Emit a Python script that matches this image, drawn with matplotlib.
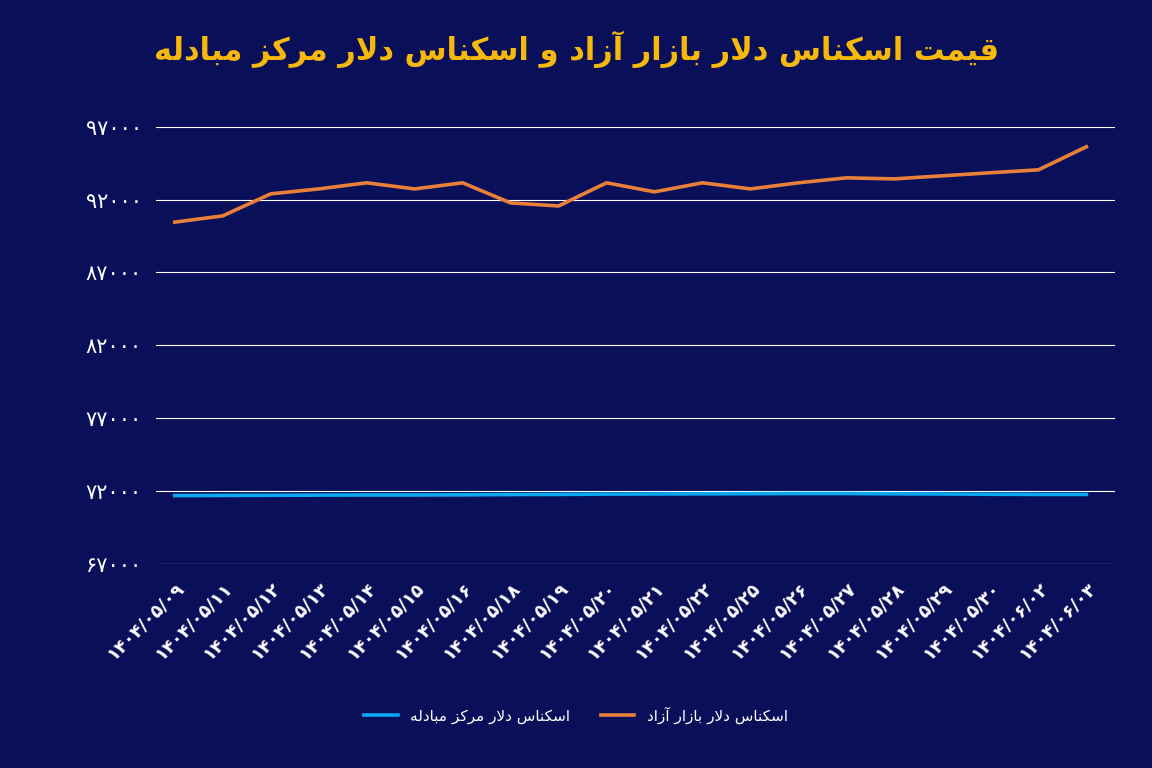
import matplotlib
matplotlib.use("Agg")
import matplotlib.pyplot as plt

# Persian letters -> (isolated, final, initial, medial); right-joining letters have only 2 forms
FORMS = {
    "ا": ("\uFE8D", "\uFE8E"), "آ": ("\uFE81", "\uFE82"),
    "د": ("\uFEA9", "\uFEAA"), "ر": ("\uFEAD", "\uFEAE"),
    "ز": ("\uFEAF", "\uFEB0"), "و": ("\uFEED", "\uFEEE"),
    "ب": ("\uFE8F", "\uFE90", "\uFE91", "\uFE92"),
    "ت": ("\uFE95", "\uFE96", "\uFE97", "\uFE98"),
    "س": ("\uFEB1", "\uFEB2", "\uFEB3", "\uFEB4"),
    "ص": ("\uFEB9", "\uFEBA", "\uFEBB", "\uFEBC"),
    "ق": ("\uFED5", "\uFED6", "\uFED7", "\uFED8"),
    "ک": ("\uFB8E", "\uFB8F", "\uFB90", "\uFB91"),
    "ل": ("\uFEDD", "\uFEDE", "\uFEDF", "\uFEE0"),
    "م": ("\uFEE1", "\uFEE2", "\uFEE3", "\uFEE4"),
    "ن": ("\uFEE5", "\uFEE6", "\uFEE7", "\uFEE8"),
    "ه": ("\uFEE9", "\uFEEA", "\uFEEB", "\uFEEC"),
    "ی": ("\uFBFC", "\uFBFD", "\uFBFE", "\uFBFF"),
}


def fa(text):
    """Very small reshaper: contextual forms + lam-alef, then reverse for LTR drawing."""
    out = []
    chars = list(text)
    i = 0
    while i < len(chars):
        c = chars[i]
        if c not in FORMS:
            out.append(c)
            i += 1
            continue
        prev = chars[i - 1] if i > 0 else ""
        joins_prev = prev in FORMS and len(FORMS[prev]) == 4
        if c == "ل" and i + 1 < len(chars) and chars[i + 1] == "ا":
            out.append("\uFEFC" if joins_prev else "\uFEFB")
            i += 2
            continue
        nxt = chars[i + 1] if i + 1 < len(chars) else ""
        f = FORMS[c]
        joins_next = len(f) == 4 and nxt in FORMS
        if joins_prev and joins_next:
            out.append(f[3])
        elif joins_prev:
            out.append(f[1])
        elif joins_next:
            out.append(f[2])
        else:
            out.append(f[0])
        i += 1
    return "".join(reversed(out))


def fa_digits(s):
    return s.translate(str.maketrans("0123456789", "۰۱۲۳۴۵۶۷۸۹"))


dates = ["1404/05/09", "1404/05/11", "1404/05/12", "1404/05/13", "1404/05/14",
         "1404/05/15", "1404/05/16", "1404/05/18", "1404/05/19", "1404/05/20",
         "1404/05/21", "1404/05/22", "1404/05/25", "1404/05/26", "1404/05/27",
         "1404/05/28", "1404/05/29", "1404/05/30", "1404/06/02", "1404/06/03"]
free_market = [90450, 90880, 92390, 92730, 93150, 92730, 93150, 91770, 91560, 93150,
               92530, 93150, 92730, 93150, 93490, 93420, 93630, 93840, 94040, 95620]
exchange_center = [71680, 71690, 71700, 71710, 71720, 71720, 71730, 71750, 71760, 71780,
                   71790, 71800, 71810, 71820, 71820, 71800, 71790, 71770, 71760, 71760]
yticks = [67000, 72000, 77000, 82000, 87000, 92000, 97000]

title = "قیمت اسکناس دلار بازار آزاد و اسکناس دلار مرکز مبادله"
name_free = "اسکناس دلار بازار آزاد"
name_center = "اسکناس دلار مرکز مبادله"

bg = "#0a0f5a"
fig = plt.figure(figsize=(11.52, 7.68), dpi=100, facecolor=bg)
ax = fig.add_axes([0.135, 0.265, 0.833, 0.57], facecolor=bg)

x = range(len(dates))
ax.plot(x, exchange_center, color="#0aa8f0", lw=2.6, label=fa(name_center))
ax.plot(x, free_market, color="#e8803a", lw=2.6, label=fa(name_free))

ax.set_ylim(66950, 97000)
ax.set_xlim(-0.4, len(dates) - 0.4)
ax.set_yticks(yticks)
ax.set_yticklabels([fa_digits(str(v)) for v in yticks], fontsize=15, color="white",
                   fontfamily="DejaVu Sans")
ax.set_xticks(list(x))
ax.set_xticklabels([fa_digits(d) for d in dates], rotation=45, ha="right",
                   rotation_mode="anchor", fontsize=13, color="white",
                   fontweight="bold", fontfamily="DejaVu Sans")
ax.grid(axis="y", color="white", lw=0.8)
ax.tick_params(length=0, pad=10)
for s in ax.spines.values():
    s.set_visible(False)

fig.text(0.5, 0.922, fa(title), ha="center", fontsize=22, fontweight="bold",
         color="#f6b80a", fontfamily="DejaVu Sans")
leg = fig.legend(loc="lower center", bbox_to_anchor=(0.5, 0.04), ncol=2,
                 frameon=False, fontsize=11, handlelength=2.2)
for t in leg.get_texts():
    t.set_color("white")

fig.savefig("out.png", facecolor=bg)
